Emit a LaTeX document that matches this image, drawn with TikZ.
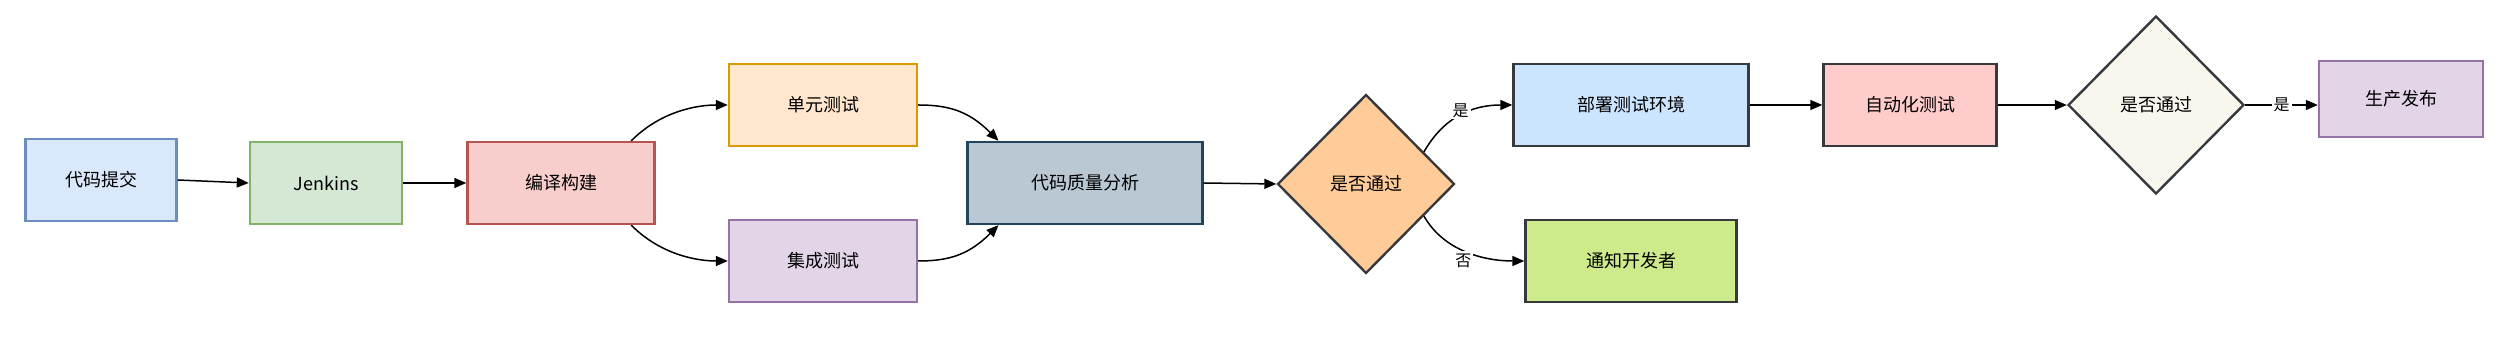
\documentclass[tikz,border=0pt]{standalone}
\usepackage{fontspec}
\setmainfont{Noto Sans CJK SC}
\usepackage{tikz}
\usetikzlibrary{arrows.meta,shapes.geometric}

\definecolor{commitfill}{HTML}{DAE8FC}\definecolor{commitline}{HTML}{6C8EBF}
\definecolor{jenkfill}{HTML}{D5E8D4}\definecolor{jenkline}{HTML}{82B366}
\definecolor{buildfill}{HTML}{F8CECC}\definecolor{buildline}{HTML}{B85450}
\definecolor{unitfill}{HTML}{FFE6CC}\definecolor{unitline}{HTML}{D79B00}
\definecolor{purpfill}{HTML}{E1D5E7}\definecolor{purpline}{HTML}{9673A6}
\definecolor{qualfill}{HTML}{BAC8D3}\definecolor{qualline}{HTML}{23445D}
\definecolor{gatefill}{HTML}{FFCC99}\definecolor{darkline}{HTML}{36393D}
\definecolor{deployfill}{HTML}{CCE5FF}\definecolor{autofill}{HTML}{FFCCCC}
\definecolor{gatetwofill}{HTML}{F9F7ED}\definecolor{notifyfill}{HTML}{CDEB8B}

\tikzset{
  stage/.style={draw,line width=1.2pt,minimum height=41pt,inner sep=0pt,
    font=\fontsize{9}{11}\selectfont},
  gate/.style={diamond,draw=darkline,line width=1.2pt,inner sep=0pt,
    font=\fontsize{9}{11}\selectfont},
  flow/.style={-{Triangle[length=6pt,width=5pt]},line width=0.75pt},
  tag/.style={font=\fontsize{8}{10}\selectfont,fill=white,inner sep=1pt},
}

\begin{document}
\begin{tikzpicture}[x=0.5pt,y=-0.5pt]
\useasboundingbox (0,0) rectangle (2512,340);

\node[stage,fill=commitfill,draw=commitline,minimum width=75.5pt] (commit) at (101,180) {代码提交};
\node[stage,fill=jenkfill,draw=jenkline,minimum width=76pt] (jenkins) at (326,183) {Jenkins};
\node[stage,fill=buildfill,draw=buildline,minimum width=93.5pt] (build) at (561,183) {编译构建};
\node[stage,fill=unitfill,draw=unitline,minimum width=94pt] (unit) at (823,105) {单元测试};
\node[stage,fill=purpfill,draw=purpline,minimum width=94pt] (integ) at (823,261) {集成测试};
\node[stage,fill=qualfill,draw=qualline,minimum width=117.5pt] (quality) at (1085,183) {代码质量分析};
\node[gate,fill=gatefill,minimum width=88.5pt,minimum height=89.5pt] (check) at (1366,184) {是否通过};
\node[stage,fill=deployfill,draw=darkline,minimum width=117.5pt] (deploy) at (1631,105) {部署测试环境};
\node[stage,fill=notifyfill,draw=darkline,minimum width=105.5pt] (notify) at (1631,261) {通知开发者};
\node[stage,fill=autofill,draw=darkline,minimum width=86.5pt] (autotest) at (1910,105) {自动化测试};
\node[gate,fill=gatetwofill,minimum width=88pt,minimum height=89pt] (recheck) at (2156,105) {是否通过};
\node[stage,fill=purpfill,draw=purpline,minimum width=82pt,minimum height=38pt] (release) at (2401,99) {生产发布};

\draw[flow] (commit.east) -- (jenkins.west);
\draw[flow] (jenkins.east) -- (build.west);
% build fans out to both test stages, which join again at the quality check
\draw[flow] (build.31) .. controls +(30,-30) and +(-30,0) .. (unit.west);
\draw[flow] (build.-31) .. controls +(30,30) and +(-30,0) .. (integ.west);
\draw[flow] (unit.east) .. controls +(30,0) and +(-30,-30) .. (quality.154);
\draw[flow] (integ.east) .. controls +(30,0) and +(-30,30) .. (quality.-154);
\draw[flow] (quality.east) -- (check.west);
\draw[flow] (check.29) .. controls +(20,-35) and +(-40,0) .. node[tag,pos=0.5,yshift=2.5pt] {是} (deploy.west);
\draw[flow] (check.-29) .. controls +(20,35) and +(-40,0) .. node[tag,pos=0.47,yshift=-5pt] {否} (notify.west);
\draw[flow] (deploy.east) -- (autotest.west);
\draw[flow] (autotest.east) -- (recheck.west);
\draw[flow] (recheck.east) -- node[tag] {是} (recheck.east -| release.west);
\end{tikzpicture}
\end{document}
